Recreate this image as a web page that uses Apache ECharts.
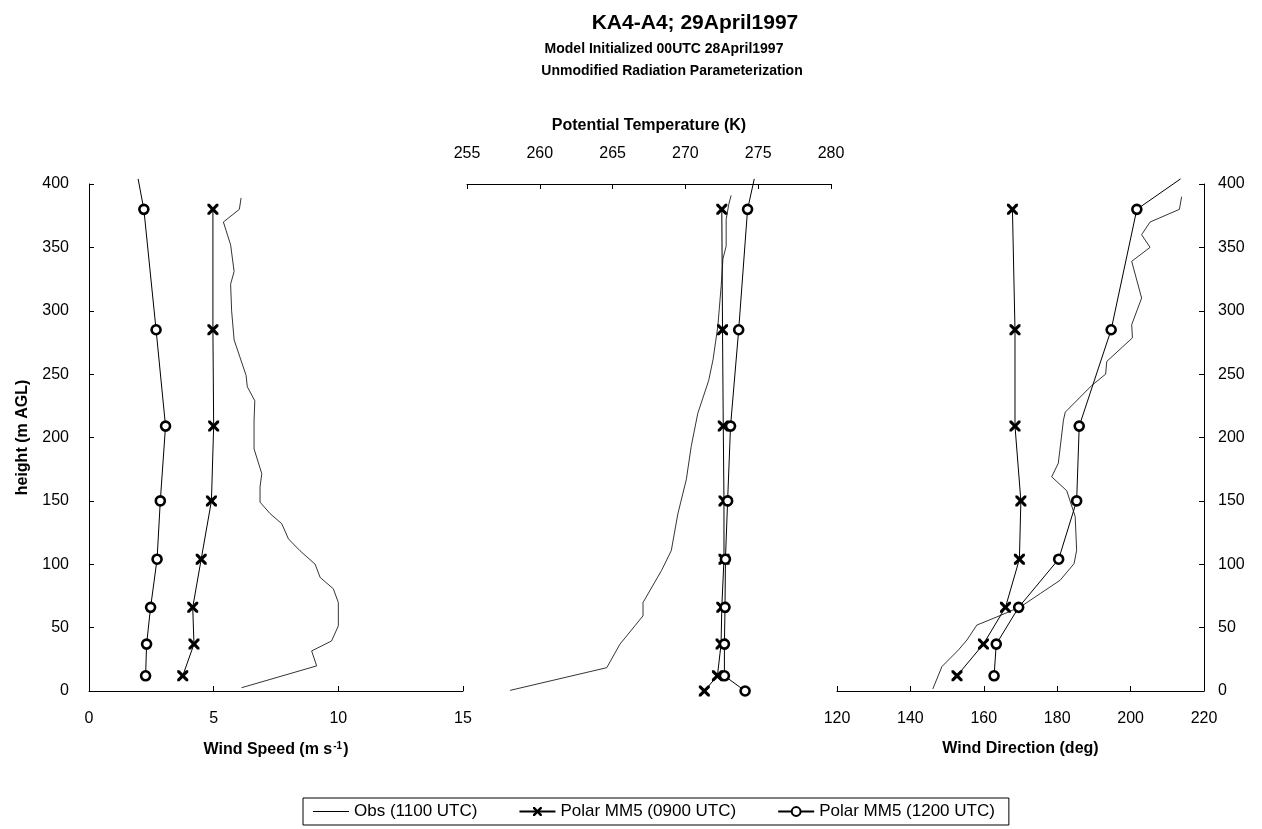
<!DOCTYPE html>
<html>
<head>
<meta charset="utf-8">
<title>KA4-A4; 29April1997</title>
<script src="https://cdn.jsdelivr.net/npm/echarts@6/dist/echarts.min.js"></script>
<style>
  html, body { margin: 0; padding: 0; background: #fff; }
  #chart { width: 1262px; height: 829px; }
</style>
</head>
<body>
<div id="chart"></div>
<script>
// model levels (m AGL)
const modelHeights = [12, 37, 66, 104, 150, 209, 285, 380]
const modelHeightsT = [0, 12, 37, 66, 104, 150, 209, 285, 380]
const topHeight = 404 // 1200 UTC line runs past the top of the plot

// wind speed (m/s)
const speed0900 = [3.76, 4.21, 4.16, 4.5, 4.91, 5.0, 4.97, 4.97]
const speed1200 = [2.27, 2.31, 2.47, 2.73, 2.86, 3.07, 2.69, 2.2]
const speed1200Top = 1.97
const obsSpeedHeights = [2.6, 19.8, 31.6, 39.5, 51.4, 69.8, 80.6, 89.6, 100, 110.7, 120, 132, 140, 149, 161, 171.5, 191, 213, 229, 240, 249, 263, 277, 300, 321, 331, 352, 370, 380, 389]
const obsSpeed = [6.12, 9.13, 8.93, 9.73, 10.0, 10.0, 9.8, 9.27, 9.07, 8.46, 8.0, 7.73, 7.26, 6.86, 6.86, 6.93, 6.62, 6.62, 6.65, 6.35, 6.3, 6.06, 5.82, 5.72, 5.68, 5.82, 5.68, 5.39, 6.03, 6.1]

// potential temperature (K)
const theta0900 = [271.3, 272.2, 272.45, 272.5, 272.65, 272.65, 272.6, 272.55, 272.5]
const theta1200 = [274.1, 272.68, 272.68, 272.72, 272.75, 272.9, 273.1, 273.66, 274.27]
const theta1200Top = 274.73
const obsThetaHeights = [0.5, 18.4, 36.9, 59.3, 69.8, 94.9, 110.7, 139.7, 166.7, 193, 219, 245, 261.6, 288, 320, 341, 351, 372, 384, 391]
const obsTheta = [257.96, 264.6, 265.5, 267.09, 267.09, 268.35, 269.03, 269.48, 270.06, 270.4, 270.85, 271.6, 271.9, 272.23, 272.46, 272.58, 272.8, 272.8, 272.98, 273.14]

// wind direction (deg)
const dir0900 = [152.7, 159.9, 165.9, 169.7, 170.1, 168.5, 168.5, 167.8]
const dir1200 = [162.8, 163.4, 169.5, 180.4, 185.3, 186.0, 194.7, 201.7]
const dir1200Top = 213.6
const obsDirHeights = [1.6, 19.3, 32.4, 40.2, 52, 58.5, 66.4, 76.9, 87.4, 100.5, 111, 137.7, 158, 169, 179.7, 213.7, 220, 241, 250, 260, 278.6, 289, 310, 339, 350, 360, 370, 380, 390]
const obsDir = [146.1, 148.6, 153.1, 155.4, 158.1, 163.6, 170, 175.4, 180.8, 184.6, 185.3, 184.9, 182.6, 178.5, 180.3, 181.7, 182.2, 189.4, 193.2, 193.5, 200.5, 200.3, 203.0, 200.3, 205.3, 203.0, 205.3, 213.3, 213.9]

const legendNames = ['Obs (1100 UTC)', 'Polar MM5 (0900 UTC)', 'Polar MM5 (1200 UTC)']

const FONT = '"Liberation Sans", Arial, sans-serif'
const crossSymbol = 'path://M0,0L4,0L10,6L16,0L20,0L20,4L14,10L20,16L20,20L16,20L10,14L4,20L0,20L0,16L6,10L0,4Z'
const lineIcon = 'path://M0,0L40,0L40,1.2L0,1.2Z'

function pairs (vals, hs) {
  return vals.map((v, i) => [v, hs[i]])
}
function withTop (vals, hs, topVal) {
  const d = pairs(vals, hs)
  d.push({ value: [topVal, topHeight], symbol: 'none' })
  return d
}

const axisLine = { show: true, onZero: false, lineStyle: { color: '#000', width: 1 } }
const axisTick = { show: true, inside: true, length: 5, lineStyle: { color: '#000' } }
const labelStyle = { color: '#000', fontFamily: FONT, fontSize: 16 }
const nameStyle = { color: '#000', fontFamily: FONT, fontSize: 16, fontWeight: 'bold' }

function heightAxis (idx, opts) {
  return Object.assign({
    gridIndex: idx,
    type: 'value',
    min: 0,
    max: 400,
    interval: 50,
    axisLine: axisLine,
    axisTick: axisTick,
    splitLine: { show: false },
    axisLabel: Object.assign({ margin: 20 }, labelStyle)
  }, opts)
}

function obsSeries (xi, data) {
  return {
    name: legendNames[0],
    type: 'line',
    xAxisIndex: xi,
    yAxisIndex: xi,
    data: data,
    symbol: 'none',
    lineStyle: { color: '#000', width: 0.8 },
    itemStyle: { color: '#000' },
    z: 2
  }
}
function x0900Series (xi, data) {
  return {
    name: legendNames[1],
    type: 'line',
    xAxisIndex: xi,
    yAxisIndex: xi,
    data: data,
    symbol: crossSymbol,
    symbolSize: 11,
    lineStyle: { color: '#000', width: 1 },
    itemStyle: { color: '#000' },
    z: 3
  }
}
function o1200Series (xi, data) {
  return {
    name: legendNames[2],
    type: 'line',
    xAxisIndex: xi,
    yAxisIndex: xi,
    data: data,
    clip: false,
    symbol: 'circle',
    symbolSize: 9,
    lineStyle: { color: '#000', width: 1 },
    itemStyle: { color: '#fff', borderColor: '#000', borderWidth: 2.6 },
    z: 4
  }
}

const chart = echarts.init(document.getElementById('chart'))
chart.setOption({
  backgroundColor: '#fff',
  animation: false,
  title: [
    { text: 'KA4-A4; 29April1997', left: 690, top: 8, textAlign: 'center',
      textStyle: { fontFamily: FONT, fontSize: 21, fontWeight: 'bold', color: '#000' } },
    { text: 'Model Initialized 00UTC 28April1997', left: 659, top: 37, textAlign: 'center',
      textStyle: { fontFamily: FONT, fontSize: 14, fontWeight: 'bold', color: '#000' } },
    { text: 'Unmodified Radiation Parameterization', left: 667, top: 59, textAlign: 'center',
      textStyle: { fontFamily: FONT, fontSize: 14, fontWeight: 'bold', color: '#000' } }
  ],
  legend: {
    data: [
      { name: legendNames[0], icon: lineIcon },
      { name: legendNames[1] },
      { name: legendNames[2] }
    ],
    left: 303,
    top: 798,
    orient: 'horizontal',
    borderColor: '#000',
    borderWidth: 1,
    borderRadius: 0,
    padding: [5, 14, 5, 10],
    itemGap: 41,
    itemWidth: 36,
    itemHeight: 11,
    textStyle: { fontFamily: FONT, fontSize: 17, color: '#000' }
  },
  grid: [
    { left: 89, top: 184, width: 374, height: 507 },
    { left: 467, top: 184, width: 364, height: 507 },
    { left: 837, top: 184, width: 367, height: 507 }
  ],
  xAxis: [
    {
      gridIndex: 0, type: 'value', min: 0, max: 15, interval: 5, position: 'bottom',
      axisLine: axisLine, axisTick: axisTick, splitLine: { show: false },
      axisLabel: Object.assign({ margin: 20 }, labelStyle),
      name: '{n|Wind Speed (m s}{s|-1}{n|)}', nameLocation: 'middle', nameGap: 50,
      nameTextStyle: {
        rich: {
          n: nameStyle,
          s: { color: '#000', fontFamily: FONT, fontSize: 10, fontWeight: 'bold', verticalAlign: 'top', padding: [0, 1, 8, 1] }
        }
      }
    },
    {
      gridIndex: 1, type: 'value', min: 255, max: 280, interval: 5, position: 'top',
      axisLine: axisLine, axisTick: axisTick, splitLine: { show: false },
      axisLabel: Object.assign({ margin: 22 }, labelStyle),
      name: 'Potential Temperature (K)', nameLocation: 'middle', nameGap: 50,
      nameTextStyle: nameStyle
    },
    {
      gridIndex: 2, type: 'value', min: 120, max: 220, interval: 20, position: 'bottom',
      axisLine: axisLine, axisTick: axisTick, splitLine: { show: false },
      axisLabel: Object.assign({ margin: 20 }, labelStyle),
      name: 'Wind Direction (deg)', nameLocation: 'middle', nameGap: 50,
      nameTextStyle: nameStyle
    }
  ],
  yAxis: [
    heightAxis(0, {
      position: 'left',
      name: 'height (m AGL)', nameLocation: 'middle', nameGap: 58,
      nameTextStyle: nameStyle
    }),
    heightAxis(1, { show: false }),
    heightAxis(2, { position: 'right', axisLabel: Object.assign({ margin: 14 }, labelStyle) })
  ],
  series: [
    obsSeries(0, pairs(obsSpeed, obsSpeedHeights)),
    x0900Series(0, pairs(speed0900, modelHeights)),
    o1200Series(0, withTop(speed1200, modelHeights, speed1200Top)),
    obsSeries(1, pairs(obsTheta, obsThetaHeights)),
    x0900Series(1, pairs(theta0900, modelHeightsT)),
    o1200Series(1, withTop(theta1200, modelHeightsT, theta1200Top)),
    obsSeries(2, pairs(obsDir, obsDirHeights)),
    x0900Series(2, pairs(dir0900, modelHeights)),
    o1200Series(2, withTop(dir1200, modelHeights, dir1200Top))
  ]
})
</script>
</body>
</html>
